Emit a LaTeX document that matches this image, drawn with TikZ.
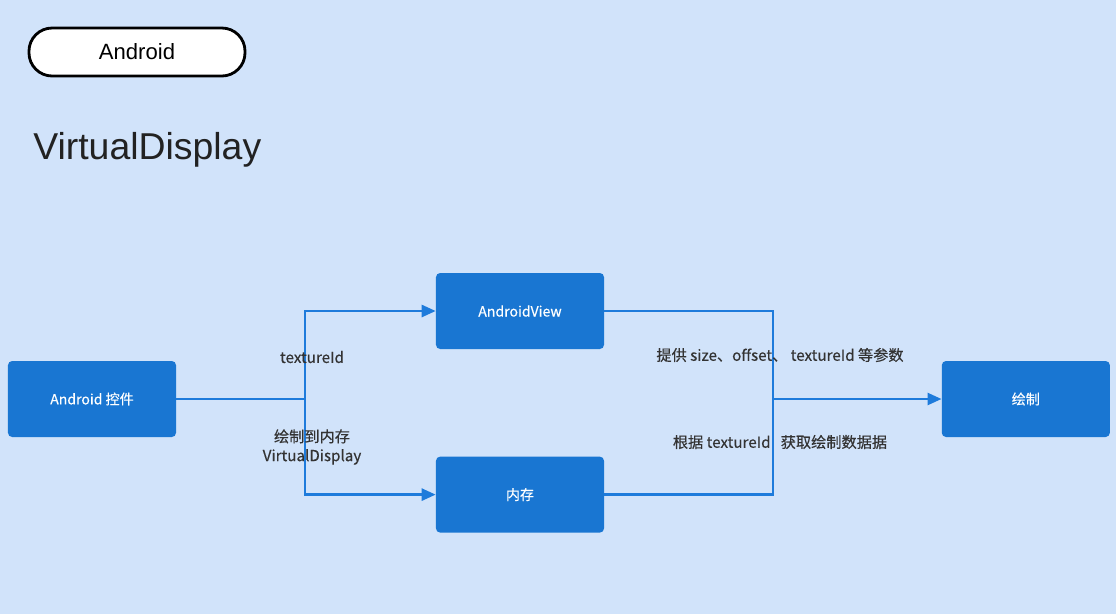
\documentclass[tikz,border=0pt]{standalone}
\usepackage{fontspec}
\setmainfont{Liberation Sans}
\newfontfamily\cjk[FakeBold=0.35]{Noto Sans CJK SC}
\usetikzlibrary{arrows.meta,positioning}
\definecolor{PageBlue}{HTML}{D1E3FA}
\definecolor{BoxBlue}{HTML}{1976D2}
\definecolor{LineBlue}{HTML}{1E7BDB}
\definecolor{LabelGrey}{HTML}{333333}
\definecolor{TitleGrey}{HTML}{222222}

\begin{document}
\begin{tikzpicture}[x=0.025cm,y=-0.025cm,
  every node/.style={font=\cjk\fontsize{10}{12}\selectfont},
  flowbox/.style={fill=BoxBlue,text=white,rounded corners=3pt,minimum width=4.2cm,minimum height=1.9cm,inner sep=0pt},
  link/.style={LineBlue,line width=1.8pt},
  tip/.style={link,-{Triangle[length=3.5mm,width=3mm]}},
  note/.style={text=LabelGrey,align=center,inner sep=0pt,font=\cjk\fontsize{10.8}{13.5}\selectfont}]
  \fill[PageBlue] (0,0) rectangle (1116,614);
  \node[draw=black,line width=2pt,fill=white,rounded corners=16.5pt,minimum width=5.4cm,minimum height=1.2cm,font=\fontsize{15.7}{18}\selectfont] (tag) at (137,52) {Android};
  \node[anchor=base west,text=TitleGrey,inner sep=0pt,font=\fontsize{26.6}{32}\selectfont] (title) at (33,159) {VirtualDisplay};
  \node[flowbox] (ctl) at (92,399) {Android 控件};
  \node[flowbox] (view) at (520,311) {AndroidView};
  \node[flowbox,below=2.675cm of view] (mem) {内存};
  \node[flowbox,right=19.125cm of ctl] (paint) {绘制};
  \coordinate (jl) at (305,399);
  \coordinate (jr) at (773,399);
  \draw[link] (ctl.east) -- (jl);
  \draw[tip] (jl) |- (view.west);
  \draw[tip] (jl) |- (mem.west);
  \draw[link] (view.east) -| (jr);
  \draw[link] (mem.east) -| (jr);
  \draw[tip] (jr) -- (paint.west);
  \node[note] (n1) at (312,357) {textureId};
  \node[note] (n2) at (312,447) {绘制到内存\\VirtualDisplay};
  \node[note] (n3) at (780,355) {提供 size、offset、 textureId 等参数};
  \node[note] (n4) at (780,442) {根据 textureId\ \ \ 获取绘制数据据};
\end{tikzpicture}
\end{document}
